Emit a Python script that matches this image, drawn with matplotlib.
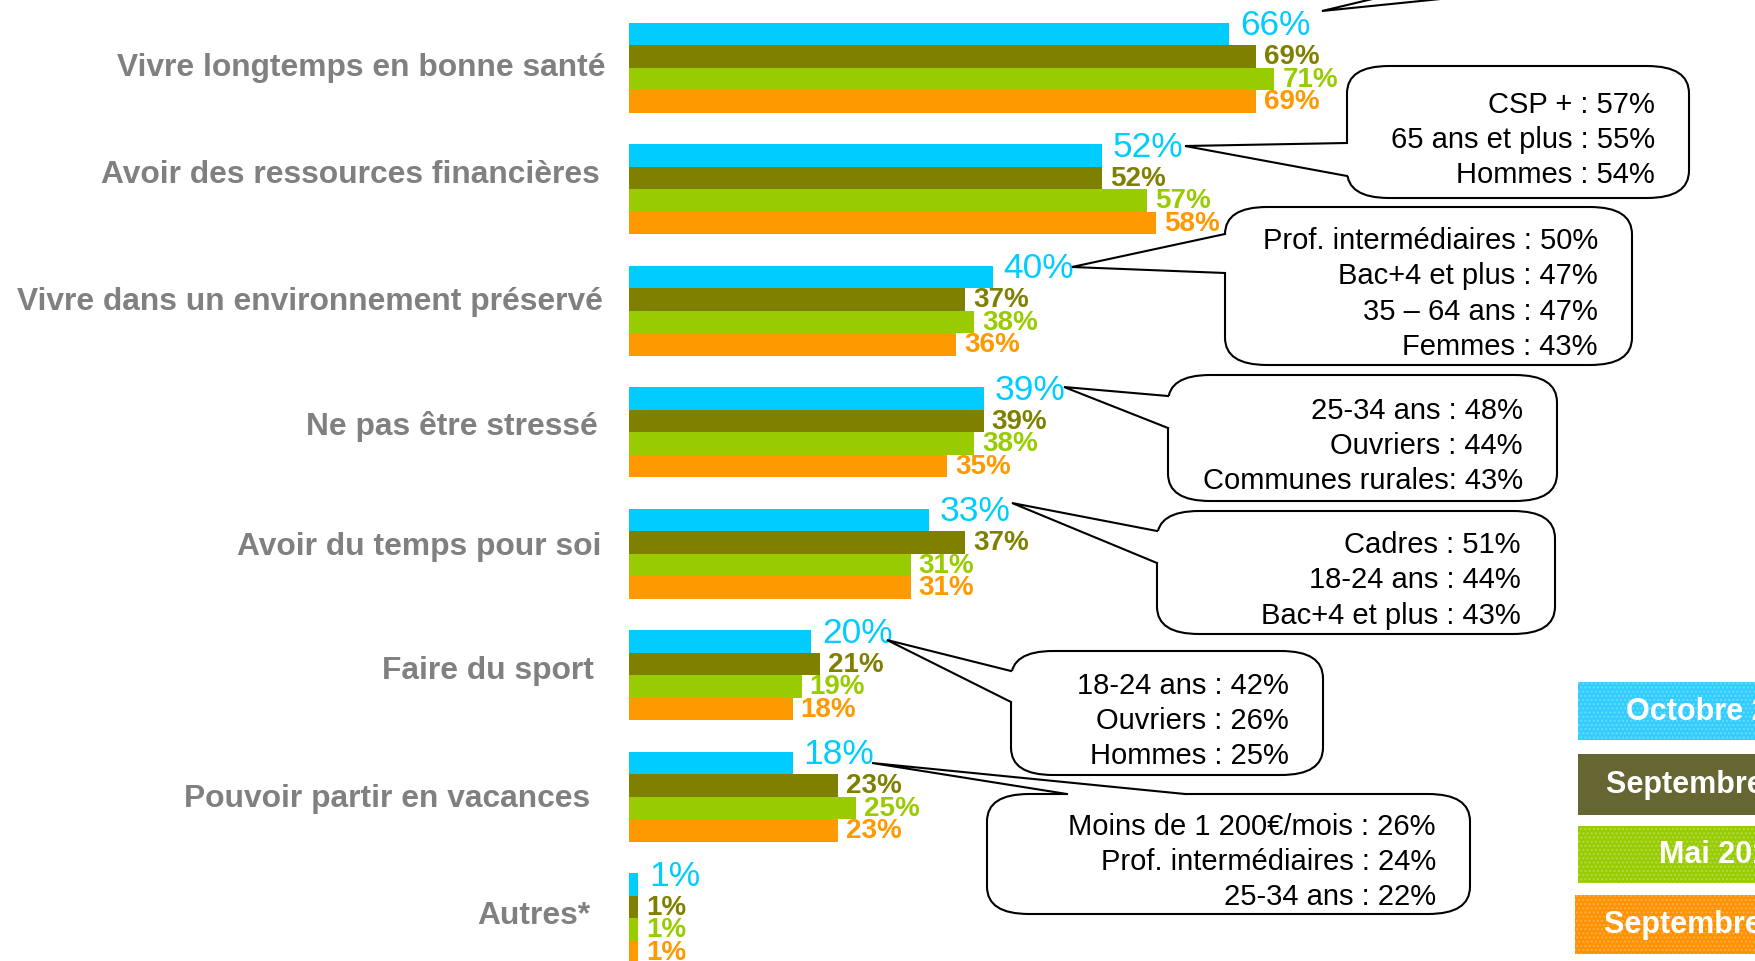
import numpy as np
import matplotlib.pyplot as plt
from matplotlib.patches import FancyBboxPatch, Polygon, Rectangle

plt.rcParams['font.family'] = ['Liberation Sans', 'DejaVu Sans']
plt.rcParams['hatch.linewidth'] = 1.0

# data
categories = ['Vivre longtemps en bonne santé',
              'Avoir des ressources financières',
              'Vivre dans un environnement préservé',
              'Ne pas être stressé',
              'Avoir du temps pour soi',
              'Faire du sport',
              'Pouvoir partir en vacances',
              'Autres*']
oct_vals = [66, 52, 40, 39, 33, 20, 18, 1]
sep_vals = [69, 52, 37, 39, 37, 21, 23, 1]
mai_vals = [71, 57, 38, 38, 31, 19, 25, 1]
sep_old_vals = [69, 58, 36, 35, 31, 18, 23, 1]
series_names = ['Octobre 2013', 'Septembre 2012', 'Mai 2012', 'Septembre 2011']
series_colors = ['#00CCFF', '#808000', '#99CC00', '#FF9900']
legend_colors = ['#33CCFF', '#666633', '#99CC00', '#FF9200']
legend_dots = ['#66DDFF', None, '#B3DB4D', '#FFAE4D']

callout_texts = [
    '',
    'CSP + : 57%\n65 ans et plus : 55%\nHommes : 54%',
    'Prof. intermédiaires : 50%\nBac+4 et plus : 47%\n35 – 64 ans : 47%\nFemmes : 43%',
    '25-34 ans : 48%\nOuvriers : 44%\nCommunes rurales: 43%',
    'Cadres : 51%\n18-24 ans : 44%\nBac+4 et plus : 43%',
    '18-24 ans : 42%\nOuvriers : 26%\nHommes : 25%',
    'Moins de 1 200€/mois : 26%\nProf. intermédiaires : 24%\n25-34 ans : 22%',
]

# layout (pixels, origin top-left)
W, H = 1756, 962
x0_px = 629
px_per_pct = 9.09
grp_c0 = 68.5
grp_step = 121.5
bar_px = 22.5

# callout geometry: box (left, top, right, bottom), apex, base1, base2, inward dir
callouts = [
    ((1350, -160, 1720, -3), (1322, 12), (1385, -3), (1470, -3), (0, -1)),
    ((1347, 67, 1689, 199), (1185, 147), (1347, 144), (1347, 177), (1, 0)),
    ((1225, 208, 1632, 366), (1072, 268), (1225, 235), (1225, 274), (1, 0)),
    ((1168, 376, 1557, 502), (1064, 388), (1168, 397), (1168, 429), (1, 0)),
    ((1157, 512, 1555, 635), (1012, 504), (1157, 532), (1157, 564), (1, 0)),
    ((1011, 652, 1323, 776), (887, 641), (1011, 672), (1011, 703), (1, 0)),
    ((987, 795, 1470, 915), (872, 764), (1067, 795), (1185, 795), (0, 1)),
]
cat_right = [606, 600, 603, 598, 601, 594, 590, 590]
cat_y = [68, 175, 302, 427, 547, 671, 799, 916]
legend_boxes = [(1578, 683, 58), (1578, 755, 61), (1578, 827, 57), (1575, 896, 59)]

fig = plt.figure(figsize=(W / 100, H / 100), dpi=100)

# bars axes: x in percent, y in group index
ax = fig.add_axes([0, 0, 1, 1])
ax.set_xlim(-x0_px / px_per_pct, (W - x0_px) / px_per_pct)
ax.set_ylim((H - grp_c0) / grp_step, -grp_c0 / grp_step)
ax.axis('off')

bar_h = bar_px / grp_step
y_idx = np.arange(len(categories))
all_vals = [oct_vals, sep_vals, mai_vals, sep_old_vals]
for j, (vals, col) in enumerate(zip(all_vals, series_colors)):
    ypos = y_idx + (j - 1.5) * bar_h
    ax.barh(ypos, vals, height=bar_h, color=col, linewidth=0)
    for y, v in zip(ypos, vals):
        if j == 0:
            ax.annotate(f'{v}%', xy=(v, y), xytext=(11, 9), textcoords='offset pixels',
                        ha='left', va='center', fontsize=25.5, color=col)
        else:
            ax.annotate(f'{v}%', xy=(v, y), xytext=(8, 0), textcoords='offset pixels',
                        ha='left', va='center', fontsize=20, fontweight='bold', color=col)

# overlay in pixel coordinates for labels, callouts and legend
ov = fig.add_axes([0, 0, 1, 1])
ov.set_xlim(0, W)
ov.set_ylim(H, 0)
ov.axis('off')
ov.patch.set_alpha(0)

for name, xr, yc in zip(categories, cat_right, cat_y):
    ov.text(xr, yc, name, ha='right', va='center', fontsize=22.9,
            fontweight='bold', color='#808080')

for (box, apex, b1, b2, inw), txt in zip(callouts, callout_texts):
    l, t, r, b = box
    ov.add_patch(FancyBboxPatch((l, t), r - l, b - t,
                                boxstyle='round,pad=0,rounding_size=42',
                                mutation_aspect=0.65, fc='white', ec='black',
                                lw=1.5, zorder=3))
    d = np.array(inw) * 5
    cover = [b1, apex, b2, (b2[0] + d[0], b2[1] + d[1]), (b1[0] + d[0], b1[1] + d[1])]
    ov.add_patch(Polygon(cover, closed=True, fc='white', ec='none', zorder=4))
    ov.plot([b1[0], apex[0], b2[0]], [b1[1], apex[1], b2[1]], color='black',
            lw=1.5, zorder=5, solid_joinstyle='miter')
    if txt:
        ov.text(r - 34, (t + b) / 2 + 7, txt, ha='right', va='center',
                fontsize=21, linespacing=1.33, color='black', zorder=6)

for (lx, ly, lh), name, col, dot in zip(legend_boxes, series_names, legend_colors, legend_dots):
    ov.add_patch(Rectangle((lx, ly), 300, lh, fc=col, ec='none', zorder=3))
    if dot:
        ov.add_patch(Rectangle((lx, ly), 300, lh, fc='none', ec=dot, lw=0,
                               hatch='....', zorder=3.5))
    ov.text(lx + 145, ly + lh / 2, name, ha='center', va='center', fontsize=22,
            fontweight='bold', color='white', zorder=4)

fig.savefig('out.png', dpi=100)
